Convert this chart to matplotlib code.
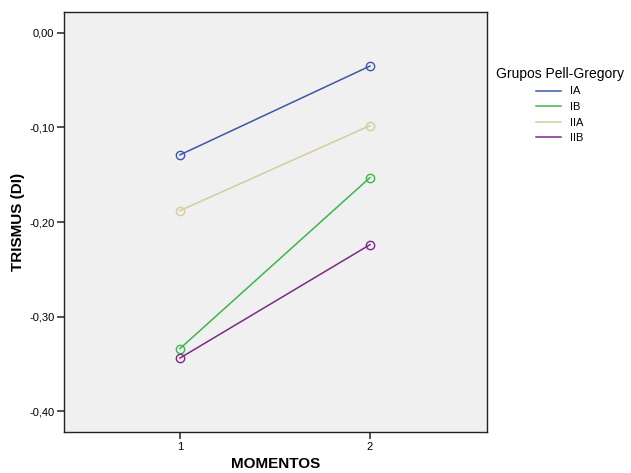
import numpy as np
import matplotlib
matplotlib.use('Agg')
import matplotlib.pyplot as plt

plt.rcParams['font.family'] = ['Liberation Sans', 'DejaVu Sans']

# ==============================================================================
# Data
# ==============================================================================
momentos = [1, 2]
grupos = ['IA', 'IB', 'IIA', 'IIB']
ia = [-0.129, -0.035]
ib = [-0.334, -0.153]
iia = [-0.188, -0.098]
iib = [-0.344, -0.224]
yticks = [0.0, -0.1, -0.2, -0.3, -0.4]

colors = ['#3d56a9', '#3cb64a', '#d3cd9c', '#7d2a86']

# ==============================================================================
# Plot
# ==============================================================================
fig = plt.figure(figsize=(6.31, 4.73), dpi=100)
ax = fig.add_axes([0.1014, 0.0867, 0.6704, 0.8879])
ax.set_facecolor('#f0f0f0')

for serie, c, name in zip([ia, ib, iia, iib], colors, grupos):
    ax.plot(momentos, serie, color=c, linewidth=1.1, marker='o', markersize=6,
            markerfacecolor='none', markeredgecolor=c, markeredgewidth=1.0, label=name)

ax.set_xlim(0.39, 2.616)
ax.set_ylim(-0.4222, 0.0222)
ax.set_xticks(momentos)
ax.set_xticklabels(['1', '2'], fontsize=8)
ax.set_yticks(yticks)
ax.set_yticklabels(['0,00' if v == 0 else ('%.2f' % v).replace('.', ',') for v in yticks],
                   fontsize=8)
ax.tick_params(axis='both', direction='out', length=5, width=1.2, color='#333333', pad=2)
for s in ax.spines.values():
    s.set_linewidth(1.0)
    s.set_color('#222222')

ax.set_ylabel('TRISMUS (DI)', fontsize=11, fontweight='bold', labelpad=3)
ax.set_xlabel('MOMENTOS', fontsize=11, fontweight='bold', labelpad=4)

leg = ax.legend(loc='upper left', bbox_to_anchor=(1.01, 0.88), frameon=False,
                title='Grupos Pell-Gregory', fontsize=8, handlelength=2.3,
                handletextpad=0.8, labelspacing=0.5, borderaxespad=0)
leg.get_title().set_fontsize(10)
for h in leg.get_lines():
    h.set_marker('')
leg._legend_box.align = 'center'

fig.savefig('out.png', dpi=100)
